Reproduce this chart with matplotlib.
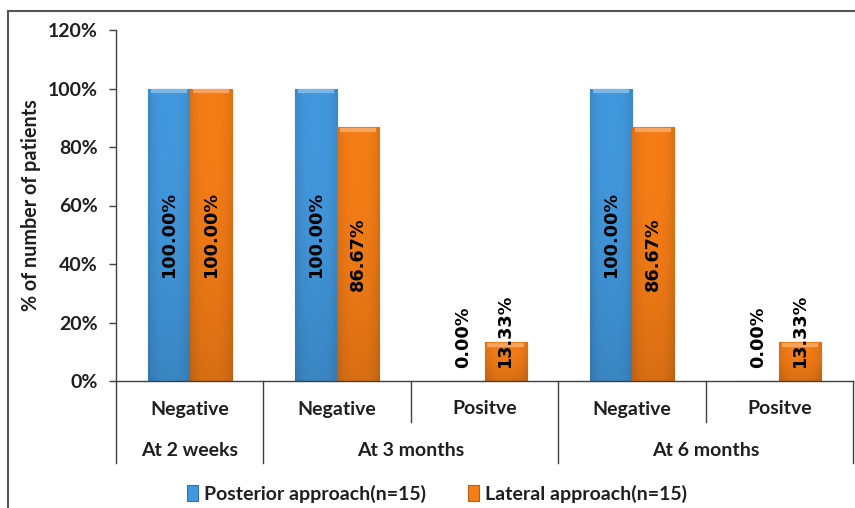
import numpy as np
import matplotlib
matplotlib.use("Agg")
import matplotlib.pyplot as plt
from matplotlib.colors import to_rgb
from matplotlib.lines import Line2D
from matplotlib.transforms import blended_transform_factory

# ---- data -------------------------------------------------------------
categories = ["Negative", "Negative", "Positve", "Negative", "Positve"]
groups = ["At 2 weeks", "At 3 months", "At 6 months"]
group_spans = [1, 2, 2]                      # number of categories per group
posterior = [100.00, 100.00, 0.00, 100.00, 0.00]
lateral = [100.00, 86.67, 13.33, 86.67, 13.33]
series_names = ["Posterior approach(n=15)", "Lateral approach(n=15)"]
yticks = [0, 20, 40, 60, 80, 100, 120]

# ---- style ------------------------------------------------------------
blue = "#4298dd"
orange = "#f57d16"
text_col = "#1f1f1f"
axis_col = "#404040"
label_font = "Lato"
value_font = "DejaVu Sans"
fs = 14

W, H, DPI = 855, 508, 100
fig = plt.figure(figsize=(W / DPI, H / DPI), dpi=DPI)
ax = fig.add_axes([116 / W, 1 - 381 / H, (853 - 116) / W, (381 - 30) / H])

n = len(categories)
ax.set_xlim(0, n)
ax.set_ylim(0, 120)
bw = 0.285


def shade(c, f):
    r = np.array(to_rgb(c))
    if f >= 0:
        return tuple(r + (1 - r) * f)
    return tuple(r * (1 + f))


def gradient_bar(bar, color):
    x0, y0 = bar.get_x(), bar.get_y()
    w, h = bar.get_width(), bar.get_height()
    if h <= 0:
        return
    ny, nx = 64, 32
    yy = np.linspace(0, 1, ny)[:, None]       # 0 bottom -> 1 top
    xx = np.linspace(-1, 1, nx)[None, :]
    base = np.array(to_rgb(color))
    # darker toward the sides and the base, brighter near the top
    k = 1.0 - 0.10 * np.abs(xx) ** 3 - 0.12 * (1 - yy) ** 2
    img = np.clip(base[None, None, :] * k[..., None], 0, 1)
    im = ax.imshow(img, extent=(x0, x0 + w, y0, y0 + h), origin="lower",
                   aspect="auto", zorder=2, interpolation="bilinear")
    im.set_clip_path(bar)


x = np.arange(n) + 0.5
bars_p = ax.bar(x - bw / 2, posterior, bw, color=blue,
                edgecolor=shade(blue, -0.25), linewidth=0.8, zorder=1,
                label=series_names[0])
bars_l = ax.bar(x + bw / 2, lateral, bw, color=orange,
                edgecolor=shade(orange, -0.25), linewidth=0.8, zorder=1,
                label=series_names[1])
for b in bars_p:
    gradient_bar(b, blue)
for b in bars_l:
    gradient_bar(b, orange)
# thin lighter cap along the top of each bar
for bars, c in ((bars_p, blue), (bars_l, orange)):
    for b in bars:
        if b.get_height() > 0:
            ax.plot([b.get_x() + 0.02, b.get_x() + b.get_width() - 0.02],
                    [b.get_height() - 0.9] * 2, color=shade(c, 0.3),
                    lw=3, solid_capstyle="butt", zorder=3)

# value labels, rotated, inside the bars
for bars, vals in ((bars_p, posterior), (bars_l, lateral)):
    for b, v in zip(bars, vals):
        cx = b.get_x() + b.get_width() / 2
        txt = f"{v:.2f}%"
        kw = dict(rotation=90, ha="center", fontsize=12.7, fontweight="bold",
                  family=value_font, color="black", zorder=5)
        if v >= 40:
            ax.text(cx, v / 2, txt, va="center", **kw)
        else:
            ax.annotate(txt, (cx, 0), xytext=(0, 9.5),
                        textcoords="offset points", va="bottom", **kw)

# axes styling
for s in ("top", "right"):
    ax.spines[s].set_visible(False)
for s in ("left", "bottom"):
    ax.spines[s].set_color(axis_col)
    ax.spines[s].set_linewidth(1.0)
ax.set_yticks(yticks)
ax.set_yticklabels([f"{t}%" for t in yticks], fontsize=fs,
                   fontweight="bold", family=label_font, color=text_col)
ax.tick_params(axis="y", length=5, width=1, color=axis_col, pad=8)
ax.set_xticks([])
ax.set_ylabel("% of number of patients", fontsize=14.2, fontweight="bold",
              family=label_font, color=text_col)
ax.yaxis.set_label_coords(-(116 - 41) / (853 - 116), 0.5)

# two-level category axis below the plot
trans = blended_transform_factory(ax.transData, ax.transAxes)
px = 1.0 / (381 - 30)                          # one pixel in axes units
row1_y = -28 * px
row2_y = -69 * px
inner_end = -41 * px
outer_end = -82 * px

for i, c in enumerate(categories):
    ax.text(i + 0.5, row1_y, c, transform=trans, ha="center", va="center",
            fontsize=fs, fontweight="bold", family=label_font,
            color=text_col, clip_on=False)

edges = np.cumsum([0] + group_spans)
for g, (a, b) in zip(groups, zip(edges[:-1], edges[1:])):
    ax.text((a + b) / 2, row2_y, g, transform=trans, ha="center",
            va="center", fontsize=fs, fontweight="bold", family=label_font,
            color=text_col, clip_on=False)

for k in range(n + 1):
    end = outer_end if k in edges else inner_end
    ax.add_line(Line2D([k, k], [0, end], transform=trans, color=axis_col,
                       lw=1.0, clip_on=False))

# legend
leg = fig.legend(handles=[bars_p, bars_l], labels=series_names,
                 loc="center", bbox_to_anchor=(437 / W, 1 - 494 / H),
                 ncol=2, frameon=False, handlelength=0.55, handleheight=0.9,
                 handletextpad=0.3, columnspacing=2.2,
                 prop={"family": label_font, "weight": "bold", "size": fs})
for t in leg.get_texts():
    t.set_color(text_col)

# chart frame
fig.add_artist(Line2D([8 / W, 1.0], [1 - 11 / H] * 2, color="#555555",
                      lw=1.5, transform=fig.transFigure))
fig.add_artist(Line2D([8 / W] * 2, [1 - 11 / H, 0.0], color="#555555",
                      lw=1.5, transform=fig.transFigure))

fig.savefig("out.png", dpi=DPI)
